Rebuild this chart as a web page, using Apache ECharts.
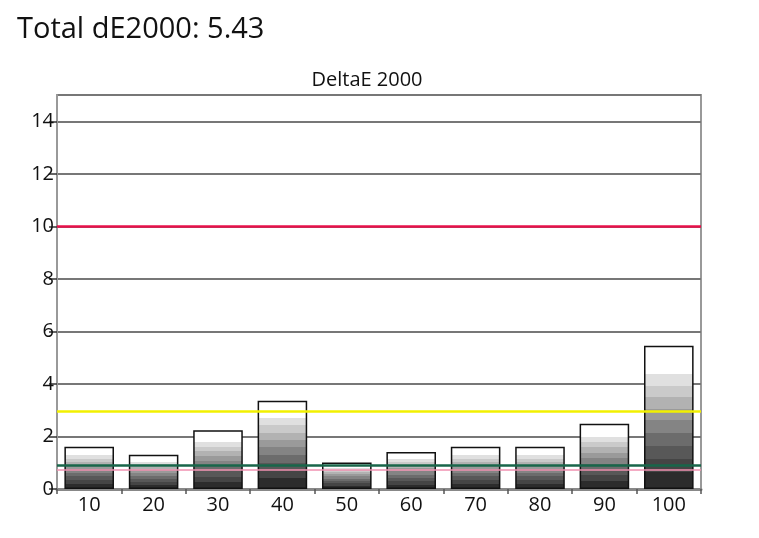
<!DOCTYPE html>
<html><head><meta charset="utf-8">
<script src="https://cdn.jsdelivr.net/npm/echarts@6/dist/echarts.min.js"></script>
<style>html,body{margin:0;padding:0;background:#fff}#c{width:759px;height:538px}</style>
</head><body><div id="c"></div>
<script>
const categories = ['10','20','30','40','50','60','70','80','90','100'];
const deltaE = [1.61, 1.30, 2.24, 3.36, 1.01, 1.41, 1.61, 1.61, 2.48, 5.45];
const yTicks = [0, 2, 4, 6, 8, 10, 12, 14];
const redLine = 10;
const yellowLine = 2.97;
const greenLine = 0.9;
const pinkLine = 0.72;
const titleText = 'Total dE2000: 5.43';
const subTitleText = 'DeltaE 2000';

function stepped() {
  const shades = ['#ffffff','#e0e0e0','#cacaca','#b2b2b2','#9a9a9a','#848484','#6c6c6c','#585858','#454545','#2c2c2c'];
  const fr = [0, 0.2, 0.28, 0.36, 0.44, 0.52, 0.61, 0.70, 0.79, 0.88, 1];
  const stops = [];
  for (let i = 0; i < shades.length; i++) {
    stops.push({offset: fr[i], color: shades[i]});
    stops.push({offset: fr[i+1], color: shades[i]});
  }
  return {type:'linear', x:0, y:0, x2:0, y2:1, colorStops: stops};
}

const chart = echarts.init(document.getElementById('c'));
chart.setOption({
  animation: false,
  title: [
    {text: titleText, left: 12, top: 10, textStyle:{fontFamily:'Open Sans', fontSize:29, fontWeight:'normal', color:'#111'}},
    {text: subTitleText, left: 362, textAlign:'center', top: 65, textStyle:{fontFamily:'Open Sans', fontSize:20, fontWeight:'normal', color:'#111'}}
  ],
  grid: {left: 57, right: 58, top: 95, bottom: 49, show: true, borderColor: '#999', borderWidth: 2, backgroundColor: '#fff'},
  xAxis: {
    type: 'category', data: categories,
    axisLine: {lineStyle:{color:'#888', width:3}},
    axisTick: {show:true, length:5, lineStyle:{color:'#555', width:1.5}},
    axisLabel: {fontFamily:'Open Sans', fontSize:20, color:'#111', margin:6}
  },
  yAxis: {
    type: 'value', min: 0, max: 15, interval: 2,
    axisLine: {show:true, lineStyle:{color:'#999', width:2}},
    axisTick: {show:true, length:8, lineStyle:{color:'#333', width:1.5}},
    axisLabel: {fontFamily:'Open Sans', fontSize:20, color:'#111', margin:3, showMaxLabel:false,
      formatter: v => yTicks.includes(v) ? String(v) : ''},
    splitLine: {show:true, lineStyle:{color:'#777', width:2}}
  },
  series: [{
    type: 'bar', barWidth: '77%',
    data: deltaE.map(v => ({value: v, itemStyle: {color: stepped(), borderColor:'#111', borderWidth:1.5}})),
    markLine: {
      silent: true, symbol: 'none', label: {show:false},
      data: [
        {yAxis: redLine, lineStyle:{color:'#e8104a', width:2.5, type:'solid'}},
        {yAxis: yellowLine, lineStyle:{color:'#f2f000', width:2.5, type:'solid'}},
        {yAxis: pinkLine, lineStyle:{color:'#f090b0', width:1.5, type:'solid'}},
        {yAxis: greenLine, lineStyle:{color:'#18664a', width:2.5, type:'solid'}}
      ]
    }
  }]
});
</script></body></html>
